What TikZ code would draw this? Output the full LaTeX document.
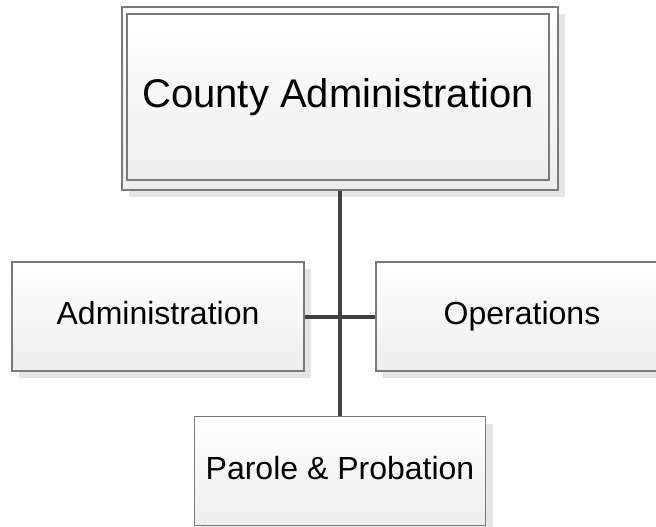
\documentclass[tikz,border=0pt]{standalone}
\usepackage{fontspec}
\setmainfont{Liberation Sans}
\usetikzlibrary{shadows}
\definecolor{boxline}{HTML}{7A7A7A}
\definecolor{conn}{HTML}{404040}
\tikzset{
  orgbox/.style={rectangle, draw=boxline, line width=1.3pt, inner sep=0pt,
    top color=white, bottom color=black!7,
    general shadow={shadow xshift=7pt, shadow yshift=-7pt, fill=black!10}},
  plainbox/.style={rectangle, draw=boxline, line width=1.3pt, inner sep=0pt,
    top color=white, bottom color=black!7},
  bigtext/.style={font=\fontsize{40}{48}\selectfont, text height=28.8pt, text depth=8.4pt},
  medtext/.style={font=\fontsize{32}{38}\selectfont, text height=23pt, text depth=6.7pt},
  link/.style={draw=conn, line width=4pt}
}
\begin{document}
\begin{tikzpicture}[x=1pt,y=-1pt]
\useasboundingbox (0,0) rectangle (656,527);
\clip (0,0) rectangle (656,527);
% top box (double frame)
\node[orgbox, minimum width=436pt, minimum height=183pt] (topout) at (340,98.5) {};
\node[plainbox, bigtext, minimum width=422pt, minimum height=166pt] (topin) at (338,97) {County Administration};
% second level
\node[orgbox, medtext, minimum width=292pt, minimum height=109pt] (admin) at (158,316.5) {Administration};
\node[orgbox, medtext, minimum width=292pt, minimum height=109pt] (ops) at (522,316.5) {Operations};
\node[orgbox, medtext, minimum width=291pt, minimum height=109pt] (parole) at (340,471) {Parole \& Probation};
% connectors
\draw[link] (topout.south) -- (parole.north);
\draw[link] (admin.east) -- (ops.west);
\end{tikzpicture}
\end{document}
